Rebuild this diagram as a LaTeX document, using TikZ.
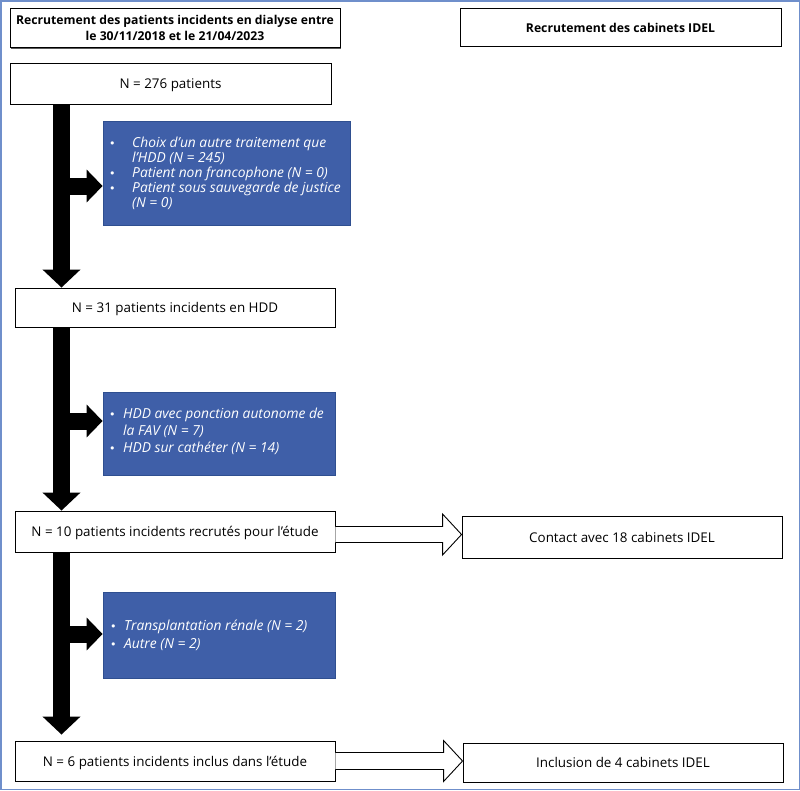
\documentclass[tikz,border=0pt]{standalone}
\usepackage{fontspec}
\setmainfont{Open Sans}
\newfontfamily\bulfont{DejaVu Sans}
\usetikzlibrary{arrows.meta,calc,shadows}
\definecolor{bluebox}{HTML}{3F5FA8}
\definecolor{blueedge}{HTML}{2F4F90}
\definecolor{framecol}{HTML}{6F8FCB}
\newcommand{\bul}[1]{\makebox[#1][l]{\smash{\upshape\bulfont\fontsize{11}{11}\selectfont •}}}
\begin{document}
\begin{tikzpicture}[x=1pt,y=-1pt,
  wbox/.style={draw=black,line width=0.9pt,fill=white,inner sep=0pt,align=center,
    drop shadow={shadow xshift=1.4pt,shadow yshift=-1.4pt,fill=black!65,opacity=1},
    font=\fontsize{13.4}{16}\selectfont},
  one/.style={text height=13pt,text depth=3pt},
  hbox/.style={wbox,font=\fontsize{12.2}{16}\selectfont\bfseries},
  bbox/.style={draw=blueedge,line width=0.8pt,fill=bluebox,inner sep=0pt},
  btext/.style={text=white,inner sep=0pt,anchor=west,font=\itshape},
  vshaft/.style={line width=17pt,black,-{Triangle[width=37pt,length=18pt]}},
  hshaft/.style={line width=17pt,black,-{Triangle[width=32pt,length=16pt]}},
  hollow/.style={draw=black,line width=0.9pt,fill=white,line join=miter}]
\useasboundingbox (0,0) rectangle (800,790);
\draw[framecol,line width=1.5pt] (0.75,0.75) rectangle (799.25,789.25);

% header boxes
\node[hbox,minimum width=330pt,minimum height=39pt] (h1) at (175,28)
  {Recrutement des patients incidents en dialyse entre\\le 30/11/2018 et le 21/04/2023};
\node[hbox,one,minimum width=321pt,minimum height=38pt] (h2) at (620.5,27)
  {Recrutement des cabinets IDEL};

% main flow boxes
\node[wbox,one,minimum width=321pt,minimum height=41pt] (n276) at (170.5,83.5) {N = 276 patients};
\node[wbox,one,minimum width=320pt,minimum height=39pt] (n31) at (175,307.5) {N = 31 patients incidents en HDD};
\node[wbox,one,minimum width=320pt,minimum height=41pt] (n10) at (175,531.5) {N = 10 patients incidents recrutés pour l’étude};
\node[wbox,one,minimum width=320pt,minimum height=40pt] (n6) at (175,761) {N = 6 patients incidents inclus dans l’étude};
\node[wbox,one,minimum width=320pt,minimum height=42pt] (contact) at (622,537) {Contact avec 18 cabinets IDEL};
\node[wbox,one,minimum width=320pt,minimum height=39pt] (incl) at (623,762.5) {Inclusion de 4 cabinets IDEL};

% blue exclusion boxes
\node[bbox,minimum width=247pt,minimum height=104pt] (b1) at (226.5,173) {};
\node[bbox,minimum width=232pt,minimum height=83pt] (b2) at (219,433.5) {};
\node[bbox,minimum width=232pt,minimum height=86pt] (b3) at (219,635) {};

\node[btext,font=\itshape\fontsize{13.8}{15}\selectfont] (t1) at (109,174.5) {%
\begin{tabular}{@{}l@{}l@{}}
\bul{23pt} & Choix d’un autre traitement que\\
 & l’HDD (N = 245)\\
\bul{23pt} & Patient non francophone (N = 0)\\
\bul{23pt} & Patient sous sauvegarde de justice\\
 & (N = 0)
\end{tabular}};
\node[btext,font=\itshape\fontsize{13.8}{17}\selectfont] (t2) at (109,432.5) {%
\begin{tabular}{@{}l@{}l@{}}
\bul{14pt} & HDD avec ponction autonome de\\
 & la FAV (N = 7)\\
\bul{14pt} & HDD sur cathéter (N = 14)
\end{tabular}};
\node[btext,font=\itshape\fontsize{13.8}{18}\selectfont] (t3) at (110,635.5) {%
\begin{tabular}{@{}l@{}l@{}}
\bul{14pt} & Transplantation rénale (N = 2)\\
\bul{14pt} & Autre (N = 2)
\end{tabular}};

% vertical shaft
\coordinate (sx) at (61.5,0);
\draw[vshaft] (n276.south -| sx) -- (n31.north -| sx);
\draw[vshaft] (n31.south -| sx) -- (n10.north -| sx);
\draw[vshaft,shorten >=6pt] (n10.south -| sx) -- (n6.north -| sx);

% side arrows to exclusion boxes
\coordinate (a1) at ($(b1.west)+(0,13)$);
\coordinate (a2) at ($(b2.west)+(0,-12.5)$);
\coordinate (a3) at ($(b3.west)+(0,-1)$);
\draw[hshaft] (a1 -| sx) -- (a1);
\draw[hshaft] (a2 -| sx) -- (a2);
\draw[hshaft] (a3 -| sx) -- (a3);

% hollow arrows to the IDEL column
\coordinate (c1) at (n10.east -| contact.west);
\draw[hollow] ($(n10.east)+(0,-5)$) -- ($(c1)+(-19,-5)$) -- ($(c1)+(-19,-17.5)$)
  -- ($(c1)+(0,3)$) -- ($(c1)+(-19,23.5)$) -- ($(c1)+(-19,11)$) -- ($(n10.east)+(0,11)$);
\coordinate (c2) at (n6.east -| incl.west);
\draw[hollow] ($(n6.east)+(0,-8.5)$) -- ($(c2)+(-19,-8.5)$) -- ($(c2)+(-19,-20.5)$)
  -- ($(c2)+(0,0)$) -- ($(c2)+(-19,20.5)$) -- ($(c2)+(-19,8.5)$) -- ($(n6.east)+(0,8.5)$);
\end{tikzpicture}
\end{document}
